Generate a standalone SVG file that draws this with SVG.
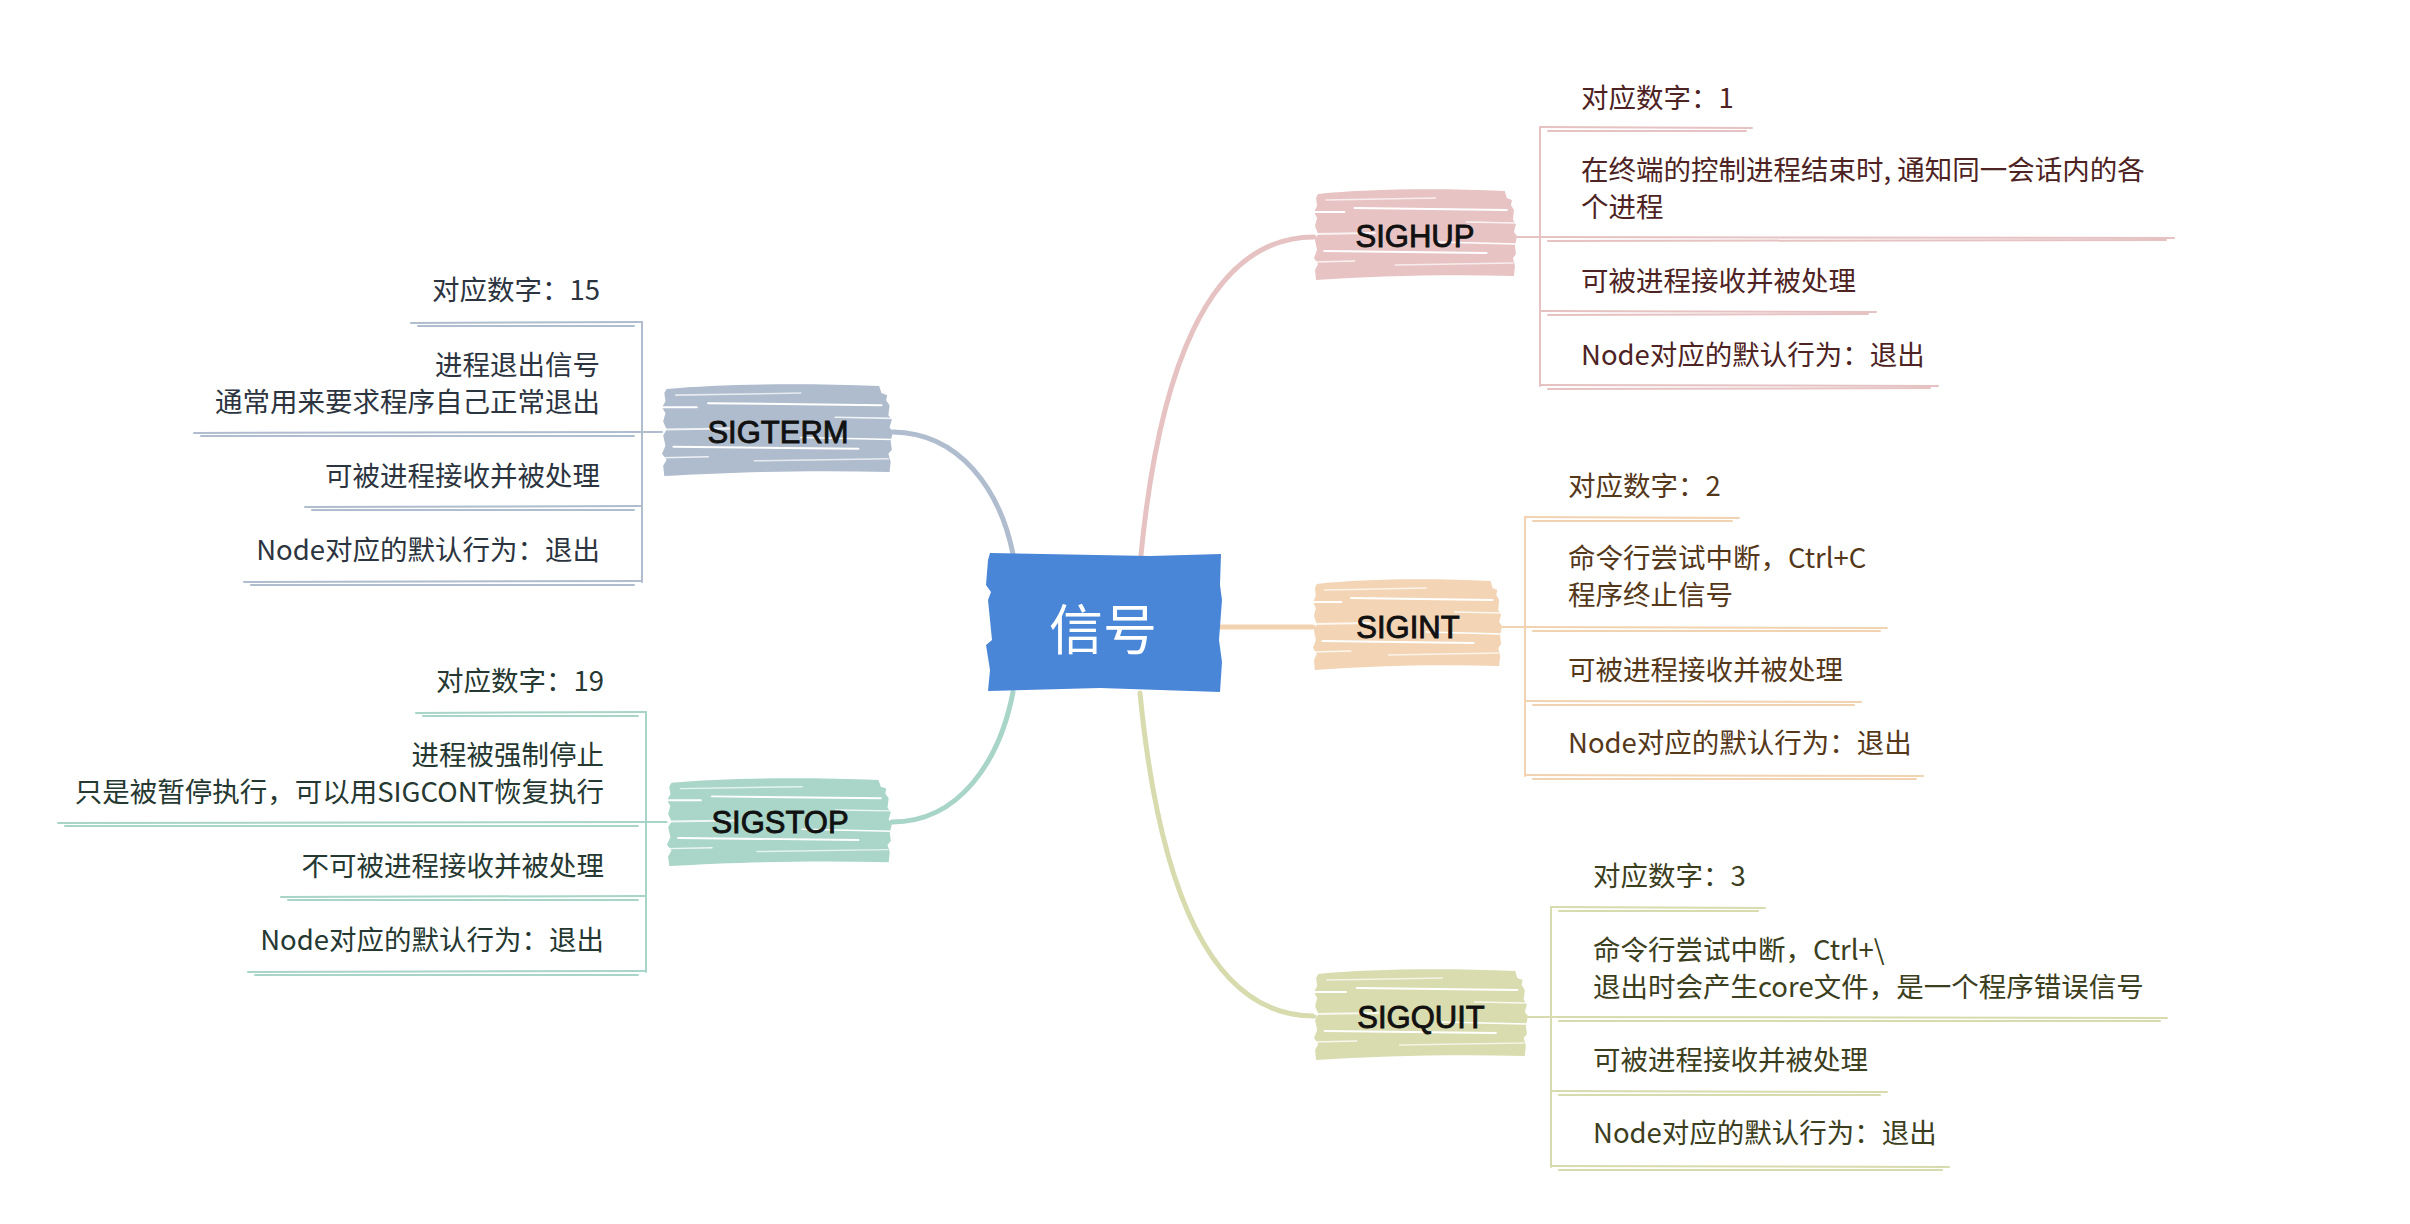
<svg xmlns="http://www.w3.org/2000/svg" width="2410" height="1224" viewBox="0 0 2410 1224">
<style>
.lbl{font-family:"Liberation Sans","DejaVu Sans",sans-serif;font-size:31px;fill:#111;text-anchor:middle;stroke:#111;stroke-width:0.9}
.it{font-family:"Noto Sans CJK SC","Noto Sans",sans-serif;font-size:27.5px}
.l .it{text-anchor:end}
.ln{fill:none;stroke-width:2;stroke-linecap:round}
.cn{fill:none;stroke-width:5;stroke-linecap:round}
.hup{stroke:#E6C2C2}.int{stroke:#F2D3B1}.quit{stroke:#D8DBAD}.term{stroke:#AFBDCE}.stop{stroke:#A8D5C8}
.thup{fill:#4E2323}.tint{fill:#55381A}.tquit{fill:#3C3E20}.tterm{fill:#2C3440}.tstop{fill:#253831}
</style>
<defs>
<symbol id="brush" viewBox="0 0 200 94" preserveAspectRatio="none">
<path fill="currentColor" d="M4,6 C50,1 120,0 188,3 L190,10 L195,12 L194,17 L197,22 L196,32 L199,36 L197,44 L200,48 L198,58 L199,66 L196,70 L198,78 L197,88 C130,86 60,88 2,92 L1,82 L4,76 L0,70 L3,62 L1,52 L4,46 L1,38 L3,30 L0,24 L3,18 L2,10 Z"/>
<g stroke="#fff" fill="none" stroke-linecap="round">
<path d="M12,12 L120,10" stroke-width="1.5" opacity=".7"/>
<path d="M40,20 L190,22" stroke-width="2"/>
<path d="M-2,24 L30,24" stroke-width="2"/>
<path d="M150,34 L200,35" stroke-width="1.5" opacity=".8"/>
<path d="M0,46 L60,45" stroke-width="2" opacity=".8"/>
<path d="M120,54 L200,56" stroke-width="1.5"/>
<path d="M10,63 L170,65" stroke-width="2"/>
<path d="M0,74 L40,73" stroke-width="1.5" opacity=".8"/>
<path d="M80,77 L196,75" stroke-width="1.5" opacity=".7"/>
</g>
</symbol>
</defs>
<rect width="2410" height="1224" fill="#fff"/>

<g id="connectors">
<path class="cn hup" d="M1141,555 C1158,380 1205,237 1314,237"/>
<path class="cn int" d="M1221,627 L1313,627"/>
<path class="cn quit" d="M1140,693 C1160,900 1215,1016 1314,1016"/>
<path class="cn term" d="M1013,554 C1000,490 960,433 893,432"/>
<path class="cn stop" d="M1013,692 C1000,760 960,822 892,822"/>
<g class="ln hup"><path d="M1540,127 L1540,386 M1517,237 L1540,237"/></g>
<g class="ln int"><path d="M1525,517 L1525,776 M1502,627 L1525,627"/></g>
<g class="ln quit"><path d="M1551,907 L1551,1167 M1528,1017 L1551,1017"/></g>
<g class="ln term"><path d="M642,322 L642,582 M642,432 L662,432"/></g>
<g class="ln stop"><path d="M646,712 L646,972 M646,822 L667,822"/></g>
</g>

<g id="node-center">
<path fill="#4A86D8" d="M990,553 L1150,556 L1221,554 L1220,585 L1222,600 L1219,640 L1222,662 L1220,692 L1100,688 L988,691 L990,670 L986,645 L992,640 L988,600 L991,592 L986,585 L988,560 Z"/>
<text x="1103" y="650" style="font-family:'Noto Sans CJK SC',sans-serif;font-size:54px;fill:#fff;text-anchor:middle">信号</text>
</g>

<g id="node-sighup">
<use href="#brush" x="1314" y="188" width="203" height="94" style="color:#E8C3C3"/>
<text class="lbl" x="1415" y="247">SIGHUP</text>
</g>
<g id="sighup-1"><text class="it thup" x="1581" y="108">对应数字：1</text><path class="ln hup" d="M1540,127 L1752,128 M1548,131 L1746,131"/></g>
<g id="sighup-2"><text class="it thup" x="1581" y="180">在终端的控制进程结束时, 通知同一会话内的各</text><text class="it thup" x="1581" y="217">个进程</text><path class="ln hup" d="M1540,237 L2174,238 M1548,241 L2166,240"/></g>
<g id="sighup-3"><text class="it thup" x="1581" y="291">可被进程接收并被处理</text><path class="ln hup" d="M1540,311 L1876,312 M1548,315 L1868,314"/></g>
<g id="sighup-4"><text class="it thup" x="1581" y="365">Node对应的默认行为：退出</text><path class="ln hup" d="M1540,385 L1938,386 M1548,389 L1930,388"/></g>

<g id="node-sigint">
<use href="#brush" x="1313" y="578" width="189" height="94" style="color:#F3D5B5"/>
<text class="lbl" x="1408" y="638">SIGINT</text>
</g>
<g id="sigint-1"><text class="it tint" x="1568" y="496">对应数字：2</text><path class="ln int" d="M1525,517 L1739,518 M1533,521 L1732,521"/></g>
<g id="sigint-2"><text class="it tint" x="1568" y="568">命令行尝试中断，Ctrl+C</text><text class="it tint" x="1568" y="605">程序终止信号</text><path class="ln int" d="M1525,627 L1887,628 M1533,631 L1880,631"/></g>
<g id="sigint-3"><text class="it tint" x="1568" y="680">可被进程接收并被处理</text><path class="ln int" d="M1525,701 L1861,702 M1533,705 L1854,705"/></g>
<g id="sigint-4"><text class="it tint" x="1568" y="753">Node对应的默认行为：退出</text><path class="ln int" d="M1525,775 L1923,776 M1533,779 L1916,779"/></g>

<g id="node-sigquit">
<use href="#brush" x="1314" y="968" width="214" height="94" style="color:#D9DCAE"/>
<text class="lbl" x="1421" y="1028">SIGQUIT</text>
</g>
<g id="sigquit-1"><text class="it tquit" x="1593" y="886">对应数字：3</text><path class="ln quit" d="M1551,907 L1765,908 M1559,911 L1758,911"/></g>
<g id="sigquit-2"><text class="it tquit" x="1593" y="960">命令行尝试中断，Ctrl+\</text><text class="it tquit" x="1593" y="997">退出时会产生core文件，是一个程序错误信号</text><path class="ln quit" d="M1551,1017 L2167,1018 M1559,1021 L2160,1021"/></g>
<g id="sigquit-3"><text class="it tquit" x="1593" y="1070">可被进程接收并被处理</text><path class="ln quit" d="M1551,1091 L1887,1092 M1559,1095 L1880,1095"/></g>
<g id="sigquit-4"><text class="it tquit" x="1593" y="1143">Node对应的默认行为：退出</text><path class="ln quit" d="M1551,1166 L1949,1167 M1559,1170 L1942,1170"/></g>

<g id="node-sigterm">
<use href="#brush" x="662" y="383" width="231" height="95" style="color:#AEBCCD"/>
<text class="lbl" x="778" y="443">SIGTERM</text>
</g>
<g class="l">
<g id="sigterm-1"><text class="it tterm" x="600" y="300">对应数字：15</text><path class="ln term" d="M642,322 L411,323 M634,326 L418,326"/></g>
<g id="sigterm-2"><text class="it tterm" x="600" y="375">进程退出信号</text><text class="it tterm" x="600" y="412">通常用来要求程序自己正常退出</text><path class="ln term" d="M642,432 L194,433 M634,436 L201,436"/></g>
<g id="sigterm-3"><text class="it tterm" x="600" y="486">可被进程接收并被处理</text><path class="ln term" d="M642,506 L305,507 M634,510 L312,510"/></g>
<g id="sigterm-4"><text class="it tterm" x="600" y="560">Node对应的默认行为：退出</text><path class="ln term" d="M642,581 L244,582 M634,585 L251,585"/></g>
</g>

<g id="node-sigstop">
<use href="#brush" x="667" y="777" width="225" height="91" style="color:#A9D6C9"/>
<text class="lbl" x="780" y="833">SIGSTOP</text>
</g>
<g class="l">
<g id="sigstop-1"><text class="it tstop" x="604" y="691">对应数字：19</text><path class="ln stop" d="M646,712 L416,713 M638,716 L423,716"/></g>
<g id="sigstop-2"><text class="it tstop" x="604" y="765">进程被强制停止</text><text class="it tstop" x="604" y="802">只是被暂停执行，可以用SIGCONT恢复执行</text><path class="ln stop" d="M646,822 L58,823 M638,826 L65,826"/></g>
<g id="sigstop-3"><text class="it tstop" x="604" y="876">不可被进程接收并被处理</text><path class="ln stop" d="M646,896 L281,897 M638,900 L288,900"/></g>
<g id="sigstop-4"><text class="it tstop" x="604" y="950">Node对应的默认行为：退出</text><path class="ln stop" d="M646,971 L248,972 M638,975 L255,975"/></g>
</g>
</svg>
